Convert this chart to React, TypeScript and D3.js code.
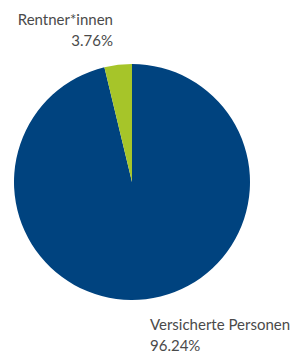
import React from "react";
import * as d3 from "d3";

const categories = ["Versicherte Personen", "Rentner*innen"];
const values = [96.24, 3.76];
const labels = ["96.24%", "3.76%"];
const colors = ["#00437f", "#a6c529"];

export default function App() {
  const width = 295;
  const height = 354;
  const cx = 132;
  const cy = 182;
  const r = 118;
  const pie = d3.pie<number>().sort(null).startAngle(0).endAngle(2 * Math.PI);
  const arcs = pie(values);
  const arc = d3.arc<d3.PieArcDatum<number>>().innerRadius(0).outerRadius(r);
  // draw order: slices clockwise from 12 o'clock; blue first
  return (
    <svg width={width} height={height} style={{ position: "absolute", left: 0, top: 0 }}>
      <g transform={`translate(${cx},${cy})`}>
        {arcs.map((a, i) => (
          <path key={i} d={arc(a) || ""} fill={colors[i]} />
        ))}
      </g>
      <g fontFamily="Lato, 'Noto Sans', sans-serif" fontSize={15} fill="#4a4a4a">
        <text x={113} y={25} textAnchor="end">{categories[1]}</text>
        <text x={113} y={46} textAnchor="end">{labels[1]}</text>
        <text x={150} y={330}>{categories[0]}</text>
        <text x={150} y={351}>{labels[0]}</text>
      </g>
    </svg>
  );
}
